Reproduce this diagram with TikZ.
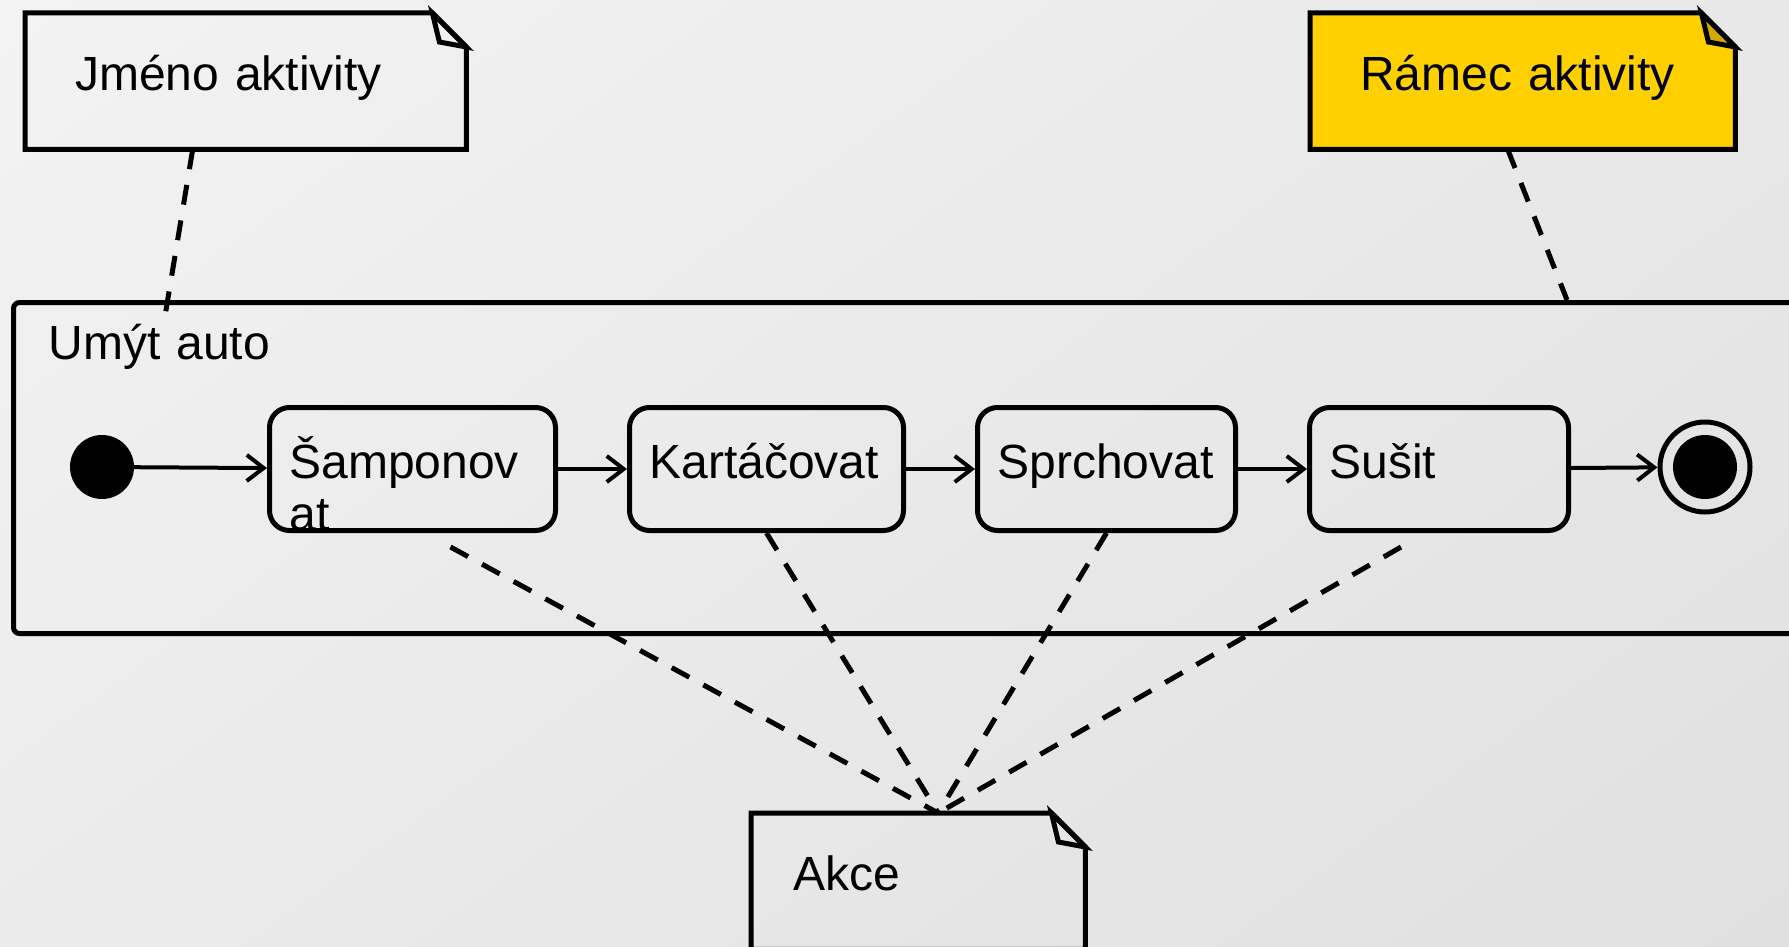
\documentclass[tikz,border=0pt]{standalone}
\usepackage{fontspec}
\setmainfont{Liberation Sans}
\usetikzlibrary{arrows.meta,calc,positioning,shadings}

\definecolor{paperA}{HTML}{F3F3F3}
\definecolor{paperB}{HTML}{E8E8E8}
\definecolor{paperC}{HTML}{EBEBEB}
\definecolor{paperD}{HTML}{E0E0E0}
\definecolor{frameyellow}{HTML}{FFD000}
\definecolor{foldyellow}{HTML}{D4AA00}

\pgfdeclarelayer{paper}
\pgfdeclarelayer{notes}
\pgfsetlayers{paper,notes,main}

\newcommand\bigsans{\fontsize{48}{52}\selectfont}

% folded-corner outline, drawn behind the note node #1
\newcommand\dogear[3]{%
  \begin{pgfonlayer}{notes}
    \draw[umlline, fill=#2] (#1.south west) -- (#1.north west)
      -- ([xshift=-34pt]#1.north east) -- ([yshift=-34pt]#1.north east)
      -- (#1.south east) -- cycle;
    \draw[umlline, fill=#3] ([xshift=-34pt]#1.north east)
      -- ([xshift=-27pt,yshift=-29pt]#1.north east)
      -- ([yshift=-34pt]#1.north east) -- cycle;
  \end{pgfonlayer}}

\begin{document}
\begin{tikzpicture}[x=1pt, y=-1pt, font=\bigsans, line join=round,
  >={Straight Barb[length=17pt,width=26pt]},
  umlline/.style={line width=5pt},
  note/.style={anchor=north west, inner ysep=0pt, align=left,
    text height=77pt, text depth=59pt},
  frame/.style={draw, umlline, rounded corners=6pt, anchor=north west,
    inner xsep=35pt, inner ysep=0pt, text width=1760pt, align=left,
    text height=57pt, text depth=274pt},
  action/.style={draw, umlline, rounded corners=20pt, inner xsep=20pt,
    inner ysep=0pt, align=left, text height=71pt, text depth=52pt},
  start/.style={circle, fill, minimum size=64pt, inner sep=0pt},
  stop/.style={circle, draw, umlline, minimum size=90pt, inner sep=0pt,
    path picture={\fill (path picture bounding box.center) circle (32pt);}},
  flow/.style={->, line width=4pt},
  link/.style={umlline, dash pattern=on 20pt off 16pt}]

  \useasboundingbox (0,0) rectangle (1789,947);
  \begin{pgfonlayer}{paper}
    \shade[upper left=paperA, upper right=paperB, lower left=paperC,
      lower right=paperD] (0,0) rectangle (1789,947);
  \end{pgfonlayer}

  % activity frame
  \node[frame] (umyt) at (11,300) {Umýt auto};

  % actions
  \node[start] (init) at (102,467) {};
  \node[action, text width=246pt, anchor=north west] (samp) at (267,405) {Šamponov\\at};
  \node[action, text width=234pt, right=69pt of samp] (kart) {Kartáčovat};
  \node[action, text width=218pt, right=69pt of kart] (sprch) {Sprchovat};
  \node[action, text width=219pt, right=69pt of sprch] (susit) {Sušit};
  \node[stop] (final) at (1705,467) {};

  \draw[flow] (init) -- (samp);
  \draw[flow] (samp) -- (kart);
  \draw[flow] (kart) -- (sprch);
  \draw[flow] (sprch) -- (susit);
  \draw[flow] (susit) -- (final);

  % notes
  \node[note, text width=341pt, inner xsep=50pt] (jmeno) at (25,13) {Jméno aktivity};
  \node[note, text width=325pt, inner xsep=50pt] (ramec) at (1310,13) {Rámec aktivity};
  \node[note, text width=250pt, inner xsep=42pt] (akce) at (751,813) {Akce};
  \dogear{jmeno}{none}{none}
  \dogear{ramec}{frameyellow}{foldyellow}
  \dogear{akce}{none}{none}

  \coordinate (jmeno-tip) at (165,316);
  \coordinate (ramec-tip) at (1567,300);
  \coordinate (akce-tip) at ([xshift=20pt]akce.north);

  \draw[link] ([xshift=-53pt]jmeno.south) -- (jmeno-tip);
  \draw[link] ([xshift=-15pt]ramec.south) -- (ramec-tip);
  \draw[link] ([xshift=38pt,yshift=-14pt]samp.south) -- (akce-tip);
  \draw[link] (kart.south) -- (akce-tip);
  \draw[link] (sprch.south) -- (akce-tip);
  \draw[link] ([xshift=-38pt,yshift=-14pt]susit.south) -- (akce-tip);
\end{tikzpicture}
\end{document}
